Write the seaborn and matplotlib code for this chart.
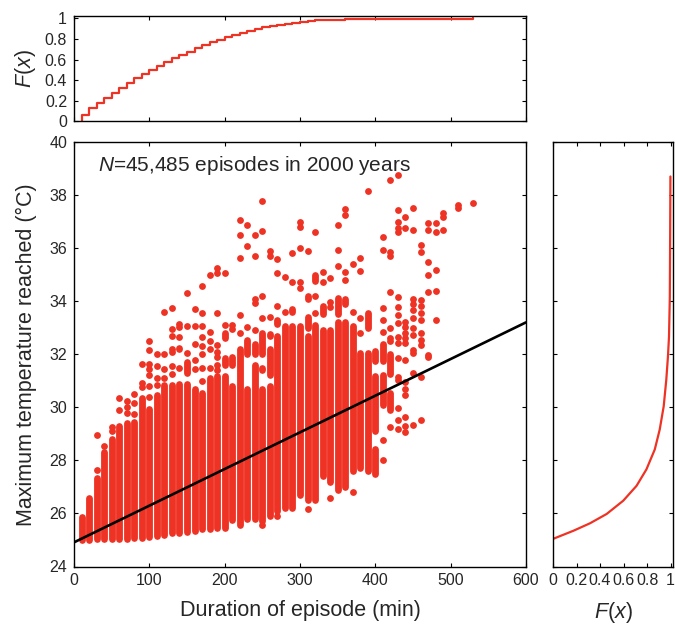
import matplotlib
matplotlib.use("Agg")
import matplotlib.pyplot as plt
import numpy as np
import pandas as pd
import seaborn as sns

RED = "#EE3224"
TXT = "#262626"

# ---------------- data ----------------
# dense bands of each duration column (°C)
band_dur = [10, 20, 30, 40, 50, 60, 70, 80, 90, 100, 110, 120, 130, 140, 150, 160, 170,
            180, 190, 200, 210, 220, 230, 240, 250, 260, 270, 280, 290, 300, 310, 320,
            330, 340, 350, 360, 370, 380, 390]
band_lo = [25.0, 25.0, 25.05, 25.05, 25.05, 25.05, 25.05, 25.07, 25.07, 25.1, 25.15, 25.2,
           25.25, 25.25, 25.3, 25.35, 25.4, 25.4, 25.45, 25.45, 25.75, 25.55, 25.8, 25.8,
           25.7, 25.9, 26.1, 26.2, 26.2, 26.7, 26.5, 26.5, 27.4, 27.2, 26.9, 27.0, 27.6,
           27.7, 27.6]
band_hi = [25.85, 26.6, 27.35, 28.3, 28.8, 29.3, 29.4, 29.45, 30.35, 29.95, 30.45, 30.85,
           30.85, 30.87, 30.87, 30.68, 30.55, 31.1, 31.18, 31.18, 30.8, 32.19, 30.68, 31.6,
           30.68, 30.8, 32.7, 33.06, 33.06, 33.06, 32.7, 33.1, 32.9, 32.9, 33.2, 33.2,
           33.06, 32.06, 32.06]

# smaller clusters of stacked points
clu_dur = [140, 150, 200, 200, 210, 210, 230, 240, 250, 250, 260, 260, 270, 290, 310, 310,
           320, 330, 350, 360, 390, 400, 400, 400, 410, 410, 410, 420, 420]
clu_lo = [32.2, 31.3, 31.6, 32.6, 31.6, 32.3, 32.0, 32.0, 31.4, 32.0, 31.2, 32.7, 33.15,
          33.6, 33.0, 34.1, 34.77, 33.52, 33.52, 33.89, 33.0, 31.76, 29.12, 27.49, 31.76,
          30.1, 29.5, 31.25, 29.9]
clu_hi = [32.25, 31.7, 31.85, 32.8, 31.9, 32.3, 32.55, 32.4, 31.5, 32.8, 32.2, 32.75, 33.3,
          33.7, 33.4, 34.2, 35.0, 33.82, 34.13, 34.07, 33.57, 32.12, 31.18, 28.42, 32.4,
          31.2, 29.5, 32.0, 30.55]

# isolated points per duration column
out_cols = [30, 40, 50, 60, 70, 80, 90, 100, 110, 120, 130, 140, 150, 160, 170, 180, 190,
            200, 210, 220, 230, 240, 250, 260, 270, 280, 290, 300, 310, 320, 330, 340, 350,
            360, 370, 380, 390, 410, 420, 430, 440, 450, 460, 470, 480, 490, 510, 530]
out_vals = [
    [27.65, 28.95],
    [28.55],
    [29.1, 29.25],
    [29.9, 30.35],
    [29.8, 30.0, 30.25],
    [29.75, 30.15, 30.5],
    [30.75, 30.9, 31.65],
    [30.4, 30.8, 31.2, 31.45, 31.65, 32.15, 32.5],
    [30.85, 31.1, 31.55, 32.0],
    [31.1, 31.45, 32.0, 33.6],
    [31.25, 31.55, 32.1, 32.2, 32.7, 32.95, 33.75],
    [31.47, 32.64, 33.03, 33.14],
    [32.04, 33.05, 34.3],
    [31.45, 31.8, 32.4, 33.05, 33.7],
    [31.0, 31.5, 32.0, 32.3, 32.66, 33.07, 33.55, 34.57],
    [31.5, 32.2, 32.5, 32.85, 35.0],
    [31.4, 31.6, 31.9, 32.1, 32.35, 33.57, 35.05, 35.25],
    [33.1, 35.05],
    [32.95, 33.1],
    [32.8, 33.48, 35.64, 36.5, 37.06],
    [33.04, 36.08, 36.87],
    [32.9, 33.95, 34.1, 35.7, 36.5],
    [25.55, 33.36, 34.2, 36.66, 37.79],
    [33.42, 35.7, 35.9],
    [25.9, 33.8, 35.08, 35.58],
    [33.6, 34.9],
    [34.73, 35.83],
    [34.5, 34.73, 35.99, 36.8, 37.0],
    [26.15, 35.9],
    [33.54, 34.2, 36.62],
    [34.73, 35.11],
    [26.6, 33.79, 33.98, 34.86],
    [35.33, 35.93, 36.87],
    [34.8, 35.11, 37.25, 37.46],
    [26.82, 33.6, 35.4],
    [32.8, 33.35, 35.14, 35.64],
    [38.16],
    [28.0, 28.75, 32.85, 33.29, 33.73, 35.93, 36.43],
    [29.27, 32.5, 32.6, 32.98, 34.36, 35.7, 35.85, 38.57],
    [29.2, 29.52, 29.96, 31.03, 31.15, 31.85, 32.41, 32.66, 33.16, 33.48, 33.79, 34.17,
     36.6, 36.74, 37.0, 37.44, 38.75],
    [29.08, 29.3, 29.65, 30.46, 30.7, 30.97, 31.78, 32.41, 32.6, 32.79, 33.04, 33.2,
     36.74, 37.18],
    [29.33, 31.28, 32.03, 32.16, 32.72, 33.0, 33.35, 33.67, 33.9, 34.1, 36.68, 37.5],
    [29.52, 31.15, 32.35, 32.55, 32.79, 33.29, 33.55, 33.8, 34.04, 35.87, 36.12],
    [31.91, 31.97, 34.36, 34.99, 35.49, 36.68, 36.93],
    [33.29, 34.4, 35.17, 36.62, 36.93],
    [36.68, 37.18, 37.31],
    [37.5, 37.62],
    [37.69],
]

# linear fit
fit_intercept = 24.91
fit_slope = 0.01382
fit_range = [0, 600]

# empirical CDF of duration (top panel)
ecdf_dur = [10, 10, 20, 30, 40, 50, 60, 70, 80, 90, 100, 110, 120, 130, 140, 150, 160, 170,
            180, 190, 200, 210, 220, 230, 240, 250, 260, 270, 280, 290, 300, 310, 320, 330,
            340, 360, 380, 400, 450, 530]
ecdf_F = [0.0, 0.061, 0.126, 0.181, 0.223, 0.274, 0.319, 0.371, 0.416, 0.458, 0.5, 0.535,
          0.574, 0.613, 0.645, 0.677, 0.71, 0.745, 0.774, 0.794, 0.819, 0.842, 0.861, 0.877,
          0.897, 0.913, 0.926, 0.935, 0.948, 0.958, 0.968, 0.974, 0.981, 0.984, 0.987,
          0.99, 0.994, 0.996, 0.998, 1.0]

# CDF of maximum temperature (right panel)
cdf_T = [25.04, 25.35, 25.63, 25.98, 26.48, 27.04, 27.66, 28.41, 29.16, 30.04, 31.04,
         31.91, 32.66, 34.16, 36.66, 38.7]
cdf_F = [0.0, 0.175, 0.315, 0.456, 0.597, 0.71, 0.794, 0.865, 0.907, 0.941, 0.963, 0.977,
         0.986, 0.993, 0.996, 0.998]

x_ticks = [0, 100, 200, 300, 400, 500, 600]
y_ticks = [24, 26, 28, 30, 32, 34, 36, 38, 40]
f_ticks = [0, 0.2, 0.4, 0.6, 0.8, 1]
f_labels = ["0", "0.2", "0.4", "0.6", "0.8", "1"]

# ---------------- styling ----------------
sns.set_theme(style="white")
plt.rcParams["font.family"] = ["Liberation Sans", "DejaVu Sans"]
plt.rcParams["mathtext.fontset"] = "custom"
plt.rcParams["mathtext.it"] = "Liberation Sans:italic"
plt.rcParams["mathtext.rm"] = "Liberation Sans"
plt.rcParams["text.color"] = TXT
plt.rcParams["axes.labelcolor"] = TXT

W, H = 675, 626
fig = plt.figure(figsize=(W / 100, H / 100), dpi=100)
ax = fig.add_axes([74 / W, 1 - 566.5 / H, 452 / W, 424.5 / H])
axt = fig.add_axes([74 / W, 1 - 121.3 / H, 452 / W, 105.3 / H])
axr = fig.add_axes([553 / W, 1 - 566.5 / H, 120 / W, 424.5 / H])

LW_DOT = 4.9  # points: diameter of a marker

# main scatter
ax.vlines(band_dur, band_lo, band_hi, colors=RED, linewidth=LW_DOT, capstyle="round", zorder=2)
ax.vlines(clu_dur, clu_lo, clu_hi, colors=RED, linewidth=LW_DOT, capstyle="round", zorder=2)
pts = pd.DataFrame({
    "dur": [d for d, vals in zip(out_cols, out_vals) for _ in vals],
    "temp": [v for vals in out_vals for v in vals],
})
sns.scatterplot(data=pts, x="dur", y="temp", ax=ax, color=RED, s=LW_DOT ** 2,
                linewidth=0, zorder=3, legend=False)

fit_df = pd.DataFrame({"x": fit_range,
                       "y": [fit_intercept + fit_slope * v for v in fit_range]})
sns.lineplot(data=fit_df, x="x", y="y", ax=ax, color="black", linewidth=1.9, zorder=4)

ax.set_xlim(0, 600)
ax.set_ylim(24, 40)
ax.set_xticks(x_ticks)
ax.set_yticks(y_ticks)
ax.set_xlabel("Duration of episode (min)", fontsize=15.5, labelpad=8)
ax.set_ylabel("Maximum temperature reached (°C)", fontsize=15.5, labelpad=9)
ax.text(32, 39.1, "$N$=45,485 episodes in 2000 years", fontsize=15, va="center",
        ha="left", color=TXT)

# top panel: ECDF of duration
ecdf_df = pd.DataFrame({"d": ecdf_dur, "F": ecdf_F})
sns.lineplot(data=ecdf_df, x="d", y="F", ax=axt, color=RED, linewidth=1.6,
             drawstyle="steps-post", estimator=None, sort=False)
axt.set_xlim(0, 600)
axt.set_ylim(0, 1.023)
axt.set_xticks(x_ticks)
axt.set_xticklabels([])
axt.set_yticks(f_ticks)
axt.set_yticklabels(f_labels)
axt.set_xlabel("")
axt.set_ylabel("$F$($x$)", fontsize=15.5, labelpad=5)

# right panel: CDF of max temperature
cdf_df = pd.DataFrame({"F": cdf_F, "T": cdf_T})
sns.lineplot(data=cdf_df, x="F", y="T", ax=axr, color=RED, linewidth=1.6,
             estimator=None, sort=False)
axr.set_xlim(0, 1.02)
axr.set_ylim(24, 40)
axr.set_yticks(y_ticks)
axr.set_yticklabels([])
axr.set_xticks(f_ticks)
axr.set_xticklabels(f_labels)
axr.set_ylabel("")
axr.set_xlabel("$F$($x$)", fontsize=15.5, labelpad=8)

for a in (ax, axt, axr):
    for s in a.spines.values():
        s.set_visible(True)
        s.set_color("black")
        s.set_linewidth(1.0)
    a.tick_params(direction="in", length=3, width=0.8, top=True, right=True,
                  bottom=True, left=True, labelsize=11.5, colors="black",
                  labelcolor=TXT, pad=5)
    a.grid(False)

fig.savefig("out.png", dpi=100)
